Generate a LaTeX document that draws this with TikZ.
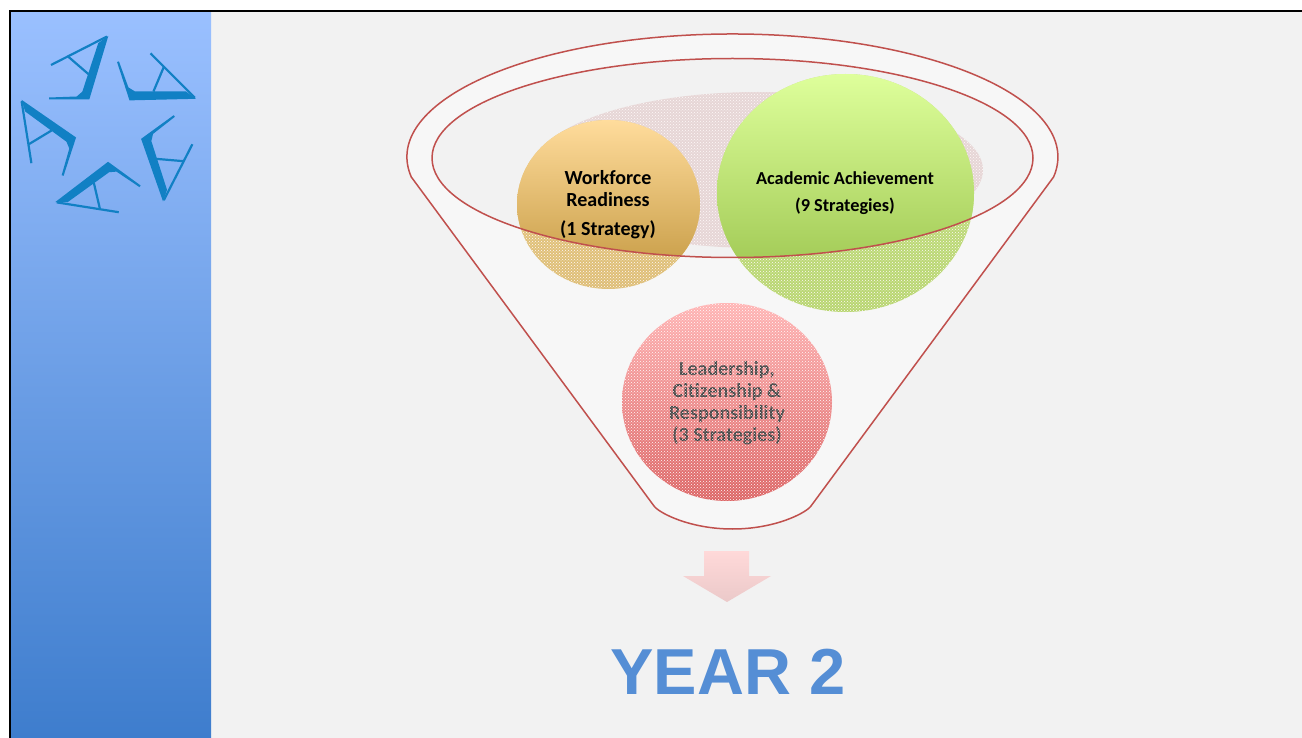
\documentclass[tikz,border=0pt]{standalone}
\usepackage{fontspec}
\usepackage{xcolor}
\usetikzlibrary{shapes.geometric,patterns}
\setmainfont{Carlito}
\newfontfamily\yearfont{Liberation Sans}
\definecolor{pagegray}{RGB}{242,242,242}
\definecolor{funnelgray}{RGB}{247,247,247}
\definecolor{funnelred}{RGB}{192,80,77}
\definecolor{logoblue}{RGB}{17,128,196}
\definecolor{yearblue}{RGB}{85,142,213}
\tikzset{
	bubble/.style={ellipse, inner sep=0pt, outer sep=0pt},
	grain/.style={postaction={pattern=crosshatch dots, pattern color=white!90!pink}},
	bubbletext/.style={align=center, font=\fontsize{18.3}{22}\selectfont\bfseries},
	bigbubbletext/.style={align=center, font=\fontsize{20}{22}\selectfont\bfseries}
}

\begin{document}
\begin{tikzpicture}[x=1pt, y=-1pt]
	\useasboundingbox (0,0) rectangle (1302,738);

	% Page and side band
	\fill[pagegray] (10,11) rectangle (1302,738);
	\shade[top color={rgb,255:red,154;green,192;blue,255}, bottom color={rgb,255:red,62;green,125;blue,205}] (11,12) rectangle (211,738);
	\draw[line width=2pt] (10,738) -- (10,11) -- (1302,11);

	% Logo
	\foreach \ang in {0,-72,-144,-216,-288} {
		\begin{scope}[rotate around={\ang:(108.8,127.6)}]
			\fill[logoblue] (108.3,36) -- (89.3,99.5) -- (49,99.5) -- (49,97.5) -- (76.7,96.5) -- (82.3,91.7) -- (98.3,43) -- cycle;
			\draw[logoblue, line width=2.2pt] (107,36.5) -- (51,65);
			\draw[logoblue, line width=2.2pt] (68.3,56.7) -- (88.3,74);
		\end{scope}
	}

	% Funnel
	\draw[funnelred, line width=1.5pt, fill=funnelgray] (411.3,177) arc[start angle=189.37, end angle=-9.37, x radius=325.5pt, y radius=123pt]
		-- (811,506) .. controls (806,513) and (775,529) .. (732.5,529) .. controls (690,529) and (659,513) .. (654,506) -- cycle;
	\node[bubble, fill=pagegray, minimum width=601pt, minimum height=199pt] (mouth) at (732.5,158) {};
	\node[bubble, fill={rgb,255:red,230;green,214;blue,214}, grain, minimum width=450pt, minimum height=156pt] (shadow) at (758,170) {};

	% Circles, pale below the mouth
	\node[bubble, top color={rgb,255:red,230;green,200;blue,130}, bottom color={rgb,255:red,222;green,190;blue,118}, grain, minimum width=183pt, minimum height=169pt] (workforce) at (608.5,204.5) {};
	\node[bubble, top color={rgb,255:red,196;green,224;blue,130}, bottom color={rgb,255:red,184;green,214;blue,112}, grain, minimum width=257pt, minimum height=238pt] (academic) at (845.5,193) {};
	\node[bubble, top color={rgb,255:red,255;green,180;blue,180}, bottom color={rgb,255:red,220;green,100;blue,100}, minimum width=210pt, minimum height=198pt] (leadership) at (727,402) {};

	% Circles, full colour inside the mouth
	\begin{scope}
		\clip (732.5,158) ellipse [x radius=300.5pt, y radius=99.5pt];
		\node[bubble, top color={rgb,255:red,255;green,220;blue,156}, bottom color={rgb,255:red,193;green,149;blue,60}, minimum width=183pt, minimum height=169pt] (workforcetop) at (608.5,204.5) {};
		\node[bubble, top color={rgb,255:red,222;green,255;blue,155}, bottom color={rgb,255:red,148;green,190;blue,70}, minimum width=257pt, minimum height=238pt] (academictop) at (845.5,193) {};
	\end{scope}
	\draw[funnelred, line width=1.5pt] (mouth.center) ellipse [x radius=300.5pt, y radius=99.5pt];

	% Labels
	\node[bigbubbletext] (workforcelabel) at (608,189) {Workforce\\Readiness};
	\node[bigbubbletext] (workforcecount) at (608,230) {(1 Strategy)};
	\node[bubbletext] (academiclabel) at (845,178) {Academic Achievement};
	\node[bubbletext] (academiccount) at (845,206) {(9 Strategies)};
	\node[bigbubbletext, text={rgb,255:red,70;green,70;blue,70}] (leadershiplabel) at (727,403) {Leadership,\\Citizenship \&\\Responsibility\\(3 Strategies)};
	\node[bubble, grain, minimum width=210pt, minimum height=198pt] (leadershipgrain) at (727,402) {};

	% Arrow
	\shade[top color={rgb,255:red,255;green,217;blue,217}, bottom color={rgb,255:red,235;green,201;blue,201}] (704,551) -- (749,551) -- (749,576) -- (771,576) -- (727,602) -- (683,576) -- (704,576) -- cycle;

	% Year
	\node[text=yearblue, font=\yearfont\fontsize{65}{65}\selectfont\bfseries] (year) at (728,672) {YEAR 2};
\end{tikzpicture}
\end{document}
